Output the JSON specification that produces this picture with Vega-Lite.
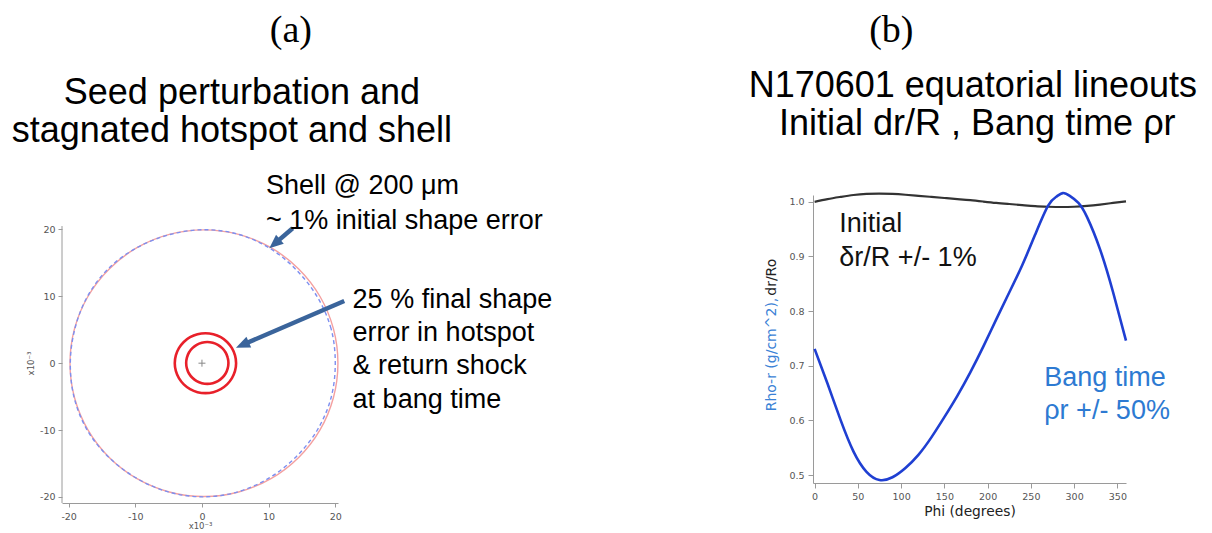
{
  "$schema": "https://vega.github.io/schema/vega-lite/v6.json",
  "background": "white",
  "padding": {"left": 11, "top": 11, "right": 0, "bottom": 0},
  "bounds": "flush",
  "spacing": 475,
  "config": {
    "view": {"stroke": null},
    "axis": {
      "grid": false,
      "domainColor": "#9a9a9a",
      "tickColor": "#9a9a9a",
      "labelColor": "#555555",
      "labelFont": "DejaVu Sans",
      "labelFontSize": 9.5,
      "titleFont": "DejaVu Sans",
      "titleFontWeight": "normal",
      "titleColor": "#555555",
      "labelFlush": false
    }
  },
  "datasets": {
    "one": [{"k": 1}],
    "pink": [{"i":0,"x":20.40,"y":0},{"i":1,"x":19.72,"y":5.16},{"i":2,"x":17.71,"y":9.97},{"i":3,"x":14.51,"y":14.09},{"i":4,"x":10.35,"y":17.26},{"i":5,"x":5.50,"y":19.25},{"i":6,"x":0.30,"y":19.93},{"i":7,"x":-4.90,"y":19.25},{"i":8,"x":-9.75,"y":17.26},{"i":9,"x":-13.91,"y":14.09},{"i":10,"x":-17.11,"y":9.97},{"i":11,"x":-19.12,"y":5.16},{"i":12,"x":-19.80,"y":0},{"i":13,"x":-19.12,"y":-5.16},{"i":14,"x":-17.11,"y":-9.97},{"i":15,"x":-13.91,"y":-14.09},{"i":16,"x":-9.75,"y":-17.26},{"i":17,"x":-4.90,"y":-19.25},{"i":18,"x":0.30,"y":-19.93},{"i":19,"x":5.50,"y":-19.25},{"i":20,"x":10.35,"y":-17.26},{"i":21,"x":14.51,"y":-14.09},{"i":22,"x":17.71,"y":-9.97},{"i":23,"x":19.72,"y":-5.16}],
    "blue": [{"i":0,"x":20.00,"y":0},{"i":1,"x":19.37,"y":5.16},{"i":2,"x":17.29,"y":9.93},{"i":3,"x":14.10,"y":14.00},{"i":4,"x":10.06,"y":17.25},{"i":5,"x":5.28,"y":19.32},{"i":6,"x":0.10,"y":19.95},{"i":7,"x":-5.04,"y":19.17},{"i":8,"x":-9.84,"y":17.22},{"i":9,"x":-14.04,"y":14.14},{"i":10,"x":-17.18,"y":9.98},{"i":11,"x":-19.07,"y":5.14},{"i":12,"x":-19.75,"y":0},{"i":13,"x":-19.17,"y":-5.16},{"i":14,"x":-17.22,"y":-10.00},{"i":15,"x":-13.97,"y":-14.07},{"i":16,"x":-9.83,"y":-17.19},{"i":17,"x":-5.06,"y":-19.24},{"i":18,"x":0.10,"y":-19.98},{"i":19,"x":5.26,"y":-19.27},{"i":20,"x":10.03,"y":-17.19},{"i":21,"x":14.11,"y":-14.01},{"i":22,"x":17.33,"y":-9.95},{"i":23,"x":19.37,"y":-5.16}],
    "inner": [{"i":0,"x":3.97,"y":0.03},{"i":1,"x":3.86,"y":0.84},{"i":2,"x":3.55,"y":1.60},{"i":3,"x":3.04,"y":2.24},{"i":4,"x":2.39,"y":2.74},{"i":5,"x":1.62,"y":3.05},{"i":6,"x":0.80,"y":3.16},{"i":7,"x":-0.02,"y":3.05},{"i":8,"x":-0.79,"y":2.74},{"i":9,"x":-1.44,"y":2.24},{"i":10,"x":-1.95,"y":1.60},{"i":11,"x":-2.26,"y":0.84},{"i":12,"x":-2.37,"y":0.03},{"i":13,"x":-2.26,"y":-0.78},{"i":14,"x":-1.95,"y":-1.54},{"i":15,"x":-1.44,"y":-2.18},{"i":16,"x":-0.79,"y":-2.68},{"i":17,"x":-0.02,"y":-2.99},{"i":18,"x":0.80,"y":-3.10},{"i":19,"x":1.62,"y":-2.99},{"i":20,"x":2.39,"y":-2.68},{"i":21,"x":3.04,"y":-2.18},{"i":22,"x":3.55,"y":-1.54},{"i":23,"x":3.86,"y":-0.78}],
    "outer": [{"i":0,"x":5.12,"y":0},{"i":1,"x":4.96,"y":1.16},{"i":2,"x":4.50,"y":2.24},{"i":3,"x":3.77,"y":3.17},{"i":4,"x":2.82,"y":3.88},{"i":5,"x":1.71,"y":4.33},{"i":6,"x":0.52,"y":4.48},{"i":7,"x":-0.67,"y":4.33},{"i":8,"x":-1.78,"y":3.88},{"i":9,"x":-2.73,"y":3.17},{"i":10,"x":-3.46,"y":2.24},{"i":11,"x":-3.92,"y":1.16},{"i":12,"x":-4.08,"y":0},{"i":13,"x":-3.92,"y":-1.16},{"i":14,"x":-3.46,"y":-2.24},{"i":15,"x":-2.73,"y":-3.17},{"i":16,"x":-1.78,"y":-3.88},{"i":17,"x":-0.67,"y":-4.33},{"i":18,"x":0.52,"y":-4.48},{"i":19,"x":1.71,"y":-4.33},{"i":20,"x":2.82,"y":-3.88},{"i":21,"x":3.77,"y":-3.17},{"i":22,"x":4.50,"y":-2.24},{"i":23,"x":4.96,"y":-1.16}],
    "dr": [{"phi":0,"v":1.000},{"phi":15,"v":1.005},{"phi":30,"v":1.009},{"phi":45,"v":1.0125},{"phi":60,"v":1.0145},{"phi":75,"v":1.015},{"phi":90,"v":1.0145},{"phi":105,"v":1.013},{"phi":120,"v":1.011},{"phi":135,"v":1.009},{"phi":150,"v":1.007},{"phi":165,"v":1.005},{"phi":180,"v":1.003},{"phi":195,"v":1.0005},{"phi":210,"v":0.998},{"phi":225,"v":0.996},{"phi":240,"v":0.994},{"phi":255,"v":0.992},{"phi":270,"v":0.991},{"phi":285,"v":0.9905},{"phi":300,"v":0.991},{"phi":315,"v":0.9925},{"phi":330,"v":0.995},{"phi":345,"v":0.998},{"phi":360,"v":1.001}],
    "rho": [{"phi":0,"v":0.731},{"phi":15,"v":0.667},{"phi":30,"v":0.601},{"phi":45,"v":0.543},{"phi":60,"v":0.506},{"phi":75,"v":0.491},{"phi":90,"v":0.496},{"phi":105,"v":0.513},{"phi":120,"v":0.537},{"phi":135,"v":0.569},{"phi":150,"v":0.606},{"phi":165,"v":0.645},{"phi":180,"v":0.688},{"phi":195,"v":0.735},{"phi":210,"v":0.785},{"phi":225,"v":0.834},{"phi":240,"v":0.884},{"phi":255,"v":0.940},{"phi":270,"v":0.993},{"phi":280,"v":1.010},{"phi":287,"v":1.016},{"phi":295,"v":1.011},{"phi":305,"v":0.998},{"phi":315,"v":0.972},{"phi":330,"v":0.913},{"phi":345,"v":0.835},{"phi":360,"v":0.746}]
  },
  "hconcat": [
    {
      "width": 276,
      "height": 308,
      "layer": [
        {
          "data": {"name": "pink"},
          "mark": {"type": "line", "interpolate": "cardinal-closed", "stroke": "#f4a0a0", "strokeWidth": 1.4, "clip": false},
          "encoding": {
            "x": {"field": "x", "type": "quantitative", "title": "x10⁻³", "scale": {"domain": [-21, 20.41], "nice": false, "zero": false},
              "axis": {"values": [-20, -10, 0, 10, 20], "labelExpr": "datum.value < 0 ? '-' + abs(datum.value) : '' + datum.value", "tickSize": 4, "labelPadding": 4, "titlePadding": 1, "titleFontSize": 8.5}},
            "y": {"field": "y", "type": "quantitative", "title": "x10⁻³", "scale": {"domain": [-20.9, 25.14], "nice": false, "zero": false},
              "axis": {"values": [-20, -10, 0, 10, 20], "labelExpr": "datum.value < 0 ? '-' + abs(datum.value) : '' + datum.value", "domain": false, "tickSize": 4, "labelPadding": 3, "titlePadding": 4, "titleFontSize": 8.5, "titleY": 168}},
            "order": {"field": "i", "type": "quantitative"}
          }
        },
        {
          "data": {"name": "blue"},
          "mark": {"type": "line", "interpolate": "cardinal-closed", "stroke": "#7d8ff0", "strokeWidth": 1.4, "strokeDash": [4, 3], "clip": false},
          "encoding": {
            "x": {"field": "x", "type": "quantitative", "title": "x10⁻³"},
            "y": {"field": "y", "type": "quantitative", "title": "x10⁻³"},
            "order": {"field": "i", "type": "quantitative"}
          }
        },
        {
          "data": {"name": "inner"},
          "mark": {"type": "line", "interpolate": "cardinal-closed", "stroke": "#e8202a", "strokeWidth": 2.6, "clip": false},
          "encoding": {
            "x": {"field": "x", "type": "quantitative", "title": "x10⁻³"},
            "y": {"field": "y", "type": "quantitative", "title": "x10⁻³"},
            "order": {"field": "i", "type": "quantitative"}
          }
        },
        {
          "data": {"name": "outer"},
          "mark": {"type": "line", "interpolate": "cardinal-closed", "stroke": "#e8202a", "strokeWidth": 2.6, "clip": false},
          "encoding": {
            "x": {"field": "x", "type": "quantitative", "title": "x10⁻³"},
            "y": {"field": "y", "type": "quantitative", "title": "x10⁻³"},
            "order": {"field": "i", "type": "quantitative"}
          }
        },
        {
          "data": {"name": "one"},
          "mark": {"type": "rule", "color": "#9a9a9a", "strokeWidth": 1},
          "encoding": {"x": {"datum": -21}, "y": {"datum": -20.9}, "y2": {"datum": 20.5}}
        },
        {
          "data": {"name": "one"},
          "mark": {"type": "point", "shape": "M-1,0L1,0M0,-1L0,1", "filled": false, "stroke": "#888888", "strokeWidth": 1, "size": 49, "opacity": 1},
          "encoding": {"x": {"datum": 0}, "y": {"datum": 0}}
        },
        {
          "data": {"name": "one"},
          "mark": {"type": "rule", "color": "#3a649b", "strokeWidth": 4.5},
          "encoding": {"x": {"datum": 13.61}, "y": {"datum": 20.16}, "x2": {"datum": 11.01}, "y2": {"datum": 17.95}}
        },
        {
          "data": {"name": "one"},
          "mark": {"type": "point", "shape": "M0,0L-0.85,2L0.85,2Z", "filled": true, "color": "#3a649b", "size": 196, "angle": 229.5, "opacity": 1, "strokeWidth": 0},
          "encoding": {"x": {"datum": 10.10}, "y": {"datum": 17.17}}
        },
        {
          "data": {"name": "one"},
          "mark": {"type": "rule", "color": "#3a649b", "strokeWidth": 4.5},
          "encoding": {"x": {"datum": 21.35}, "y": {"datum": 9.30}, "x2": {"datum": 6.20}, "y2": {"datum": 2.80}}
        },
        {
          "data": {"name": "one"},
          "mark": {"type": "point", "shape": "M0,0L-0.85,2L0.85,2Z", "filled": true, "color": "#3a649b", "size": 196, "angle": 246.7, "opacity": 1, "strokeWidth": 0},
          "encoding": {"x": {"datum": 5.10}, "y": {"datum": 2.32}}
        },
        {
          "data": {"name": "one"},
          "mark": {"type": "text", "text": "(a)", "font": "Liberation Serif", "fontSize": 38, "align": "center", "baseline": "middle", "color": "#000000"},
          "encoding": {"x": {"datum": 13.35}, "y": {"datum": 49.66}}
        },
        {
          "data": {"name": "one"},
          "mark": {"type": "text", "text": "Seed perturbation and", "font": "Liberation Sans", "fontSize": 36, "align": "center", "baseline": "alphabetic", "color": "#000000"},
          "encoding": {"x": {"datum": 6.0}, "y": {"datum": 38.74}}
        },
        {
          "data": {"name": "one"},
          "mark": {"type": "text", "text": "stagnated hotspot and shell", "font": "Liberation Sans", "fontSize": 36, "align": "center", "baseline": "alphabetic", "color": "#000000"},
          "encoding": {"x": {"datum": 4.5}, "y": {"datum": 33.06}}
        },
        {
          "data": {"name": "one"},
          "mark": {"type": "text", "text": ["Shell @ 200 μm", "~ 1% initial shape error"], "font": "Liberation Sans", "fontSize": 27, "lineHeight": 35, "align": "left", "baseline": "alphabetic", "color": "#000000"},
          "encoding": {"x": {"datum": 9.6}, "y": {"datum": 25.25}}
        },
        {
          "data": {"name": "one"},
          "mark": {"type": "text", "text": ["25 % final shape", "error in hotspot", "& return shock", "at bang time"], "font": "Liberation Sans", "fontSize": 27, "lineHeight": 33.3, "align": "left", "baseline": "alphabetic", "color": "#000000"},
          "encoding": {"x": {"datum": 22.6}, "y": {"datum": 8.30}}
        }
      ]
    },
    {
      "width": 313,
      "height": 288,
      "layer": [
        {
          "data": {"name": "dr"},
          "mark": {"type": "line", "interpolate": "natural", "stroke": "#333333", "strokeWidth": 2.2, "clip": false},
          "encoding": {
            "x": {"field": "phi", "type": "quantitative", "title": "Phi (degrees)", "scale": {"domain": [-1.85, 360], "nice": false, "zero": false},
              "axis": {"values": [0, 50, 100, 150, 200, 250, 300, 350], "titleColor": "#222222", "titleFontSize": 13.8, "tickSize": 5, "labelPadding": 3, "titlePadding": 4}},
            "y": {"field": "v", "type": "quantitative", "title": null, "scale": {"domain": [0.4855, 1.0125], "nice": false, "zero": false},
              "axis": {"values": [0.5, 0.6, 0.7, 0.8, 0.9, 1.0], "format": ".1f", "tickSize": 5, "labelPadding": 4}}
          }
        },
        {
          "data": {"name": "rho"},
          "mark": {"type": "line", "interpolate": "natural", "stroke": "#1f3fd2", "strokeWidth": 2.6, "clip": false},
          "encoding": {
            "x": {"field": "phi", "type": "quantitative", "title": "Phi (degrees)"},
            "y": {"field": "v", "type": "quantitative", "title": null}
          }
        },
        {
          "data": {"name": "one"},
          "mark": {"type": "text", "text": "(b)", "font": "Liberation Serif", "fontSize": 38, "align": "center", "baseline": "middle", "color": "#000000"},
          "encoding": {"x": {"datum": 88.7}, "y": {"datum": 1.3131}}
        },
        {
          "data": {"name": "one"},
          "mark": {"type": "text", "text": "N170601 equatorial lineouts", "font": "Liberation Sans", "fontSize": 36, "align": "center", "baseline": "alphabetic", "color": "#000000"},
          "encoding": {"x": {"datum": 182.9}, "y": {"datum": 1.1924}}
        },
        {
          "data": {"name": "one"},
          "mark": {"type": "text", "text": "Initial dr/R , Bang time ρr", "font": "Liberation Sans", "fontSize": 36, "align": "center", "baseline": "alphabetic", "color": "#000000"},
          "encoding": {"x": {"datum": 188.1}, "y": {"datum": 1.1228}}
        },
        {
          "data": {"name": "one"},
          "mark": {"type": "text", "text": ["Initial", "δr/R +/- 1%"], "font": "Liberation Sans", "fontSize": 27, "lineHeight": 34, "align": "left", "baseline": "alphabetic", "color": "#111111"},
          "encoding": {"x": {"datum": 28.6}, "y": {"datum": 0.9453}}
        },
        {
          "data": {"name": "one"},
          "mark": {"type": "text", "text": ["Bang time", "ρr +/- 50%"], "font": "Liberation Sans", "fontSize": 27, "lineHeight": 33.3, "align": "left", "baseline": "alphabetic", "color": "#2d7ad2"},
          "encoding": {"x": {"datum": 265.5}, "y": {"datum": 0.6635}}
        },
        {
          "data": {"name": "one"},
          "mark": {"type": "text", "text": "Rho-r (g/cm^2),", "font": "DejaVu Sans", "fontSize": 14, "angle": 270, "align": "right", "baseline": "middle", "color": "#3b82d6"},
          "encoding": {"x": {"datum": -49.2}, "y": {"datum": 0.8246}}
        },
        {
          "data": {"name": "one"},
          "mark": {"type": "text", "text": "dr/Ro", "font": "DejaVu Sans", "fontSize": 14, "angle": 270, "align": "right", "baseline": "middle", "color": "#222222"},
          "encoding": {"x": {"datum": -49.2}, "y": {"datum": 0.8959}}
        }
      ]
    }
  ]
}
